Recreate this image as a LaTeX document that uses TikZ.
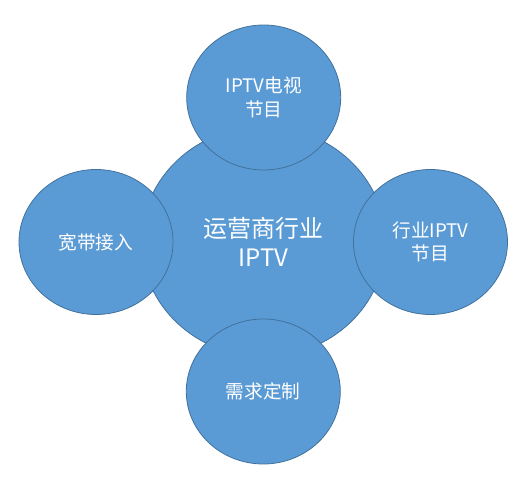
\documentclass[tikz,border=0pt]{standalone}
\usepackage{fontspec}
\newfontfamily\cjk{Noto Sans CJK SC}
\usetikzlibrary{shapes.geometric}
\definecolor{bubblefill}{HTML}{5B9BD5}
\definecolor{bubbleline}{HTML}{41719C}
\tikzset{
  bubble/.style={ellipse, draw=bubbleline, line width=.6pt, fill=bubblefill, text=white,
    align=center, inner sep=0pt, minimum width=115.5pt, minimum height=108.75pt,
    font=\cjk\fontsize{14pt}{17.5pt}\selectfont},
  hub/.style={bubble, minimum width=183pt, minimum height=172.5pt,
    font=\cjk\fontsize{18pt}{21.5pt}\selectfont}
}

\begin{document}
\begin{tikzpicture}[x=0.75pt, y=-0.75pt]
    \useasboundingbox (0,0) rectangle (529,495);
    \node[hub] (hub) at (263.5,241.7) {运营商行业\\IPTV};
    \node[bubble] (tv) at (263.7,97.5) {IPTV电视\\节目};
    \node[bubble] (broadband) at (96,242) {宽带接入};
    \node[bubble] (trade) at (430.5,242) {行业IPTV\\节目};
    \node[bubble] (custom) at (263.3,391.5) {需求定制};
\end{tikzpicture}
\end{document}
